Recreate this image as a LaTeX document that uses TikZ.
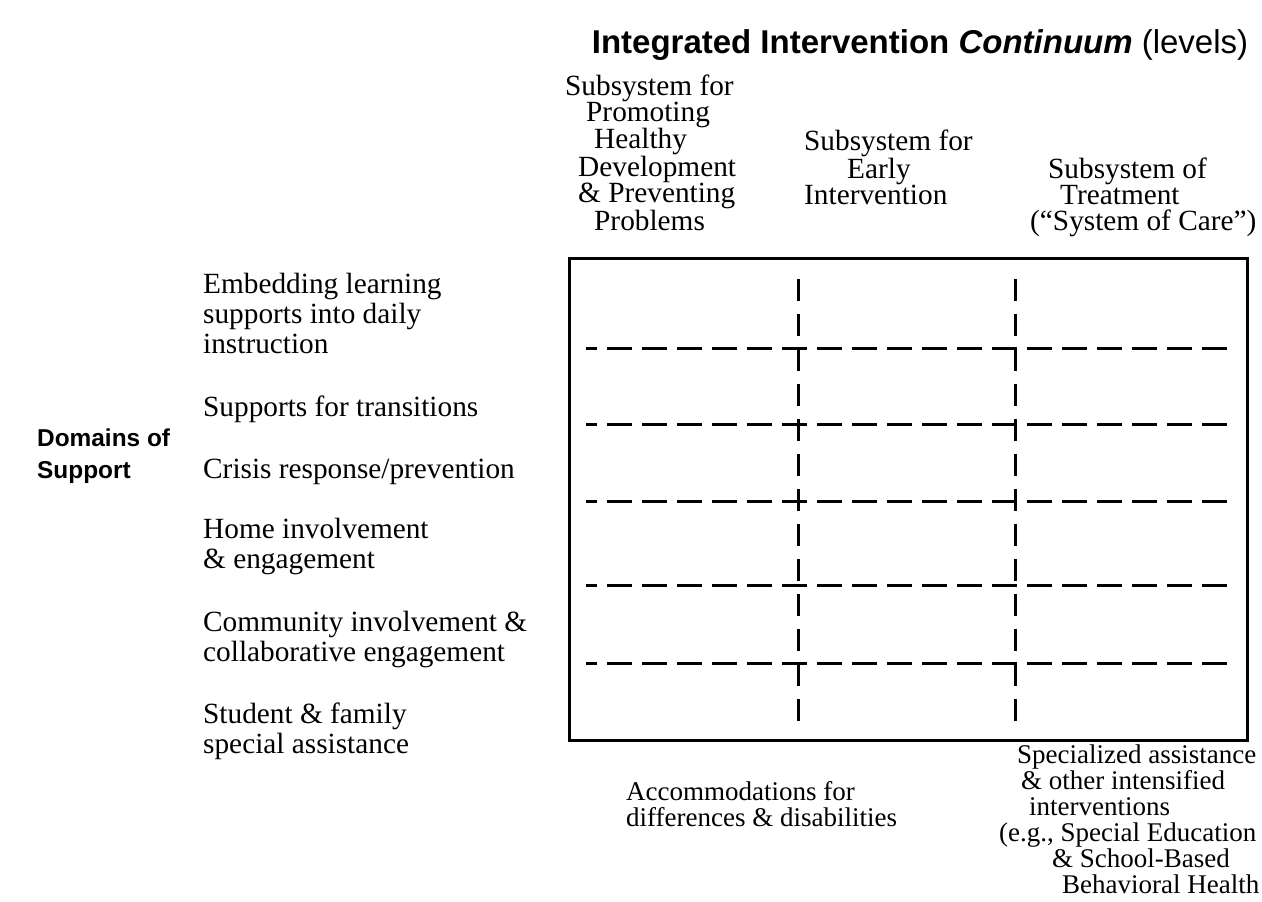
\documentclass[tikz,border=0pt]{standalone}
\usepackage{fontspec}
\setmainfont{Liberation Serif}
\setsansfont{Liberation Sans}
\usetikzlibrary{positioning}

\tikzset{
  body/.style={anchor=base west, inner sep=0pt, align=left, font=\fontsize{29.3}{30}\selectfont},
  head/.style={body, font=\fontsize{29.3}{26}\selectfont},
  foot/.style={body, font=\fontsize{27}{26}\selectfont},
  rowline/.style={line width=3pt, dash pattern=on 25pt off 10pt, dash phase=14pt},
  colline/.style={line width=3pt, dash pattern=on 22pt off 13pt},
}

\begin{document}
\begin{tikzpicture}[x=1pt,y=-1pt]
    \useasboundingbox (0,0) rectangle (1262,902);
    % title and headings (base = last line)
    \node[anchor=base, inner sep=0pt, font=\sffamily\fontsize{33}{36}\selectfont] (title) at (920,53)
        {\textbf{Integrated Intervention \textit{Continuum}} (levels)};
    \node[head] (prevent) at (565,230) {Subsystem for\\\hspace*{21pt}Promoting\\\hspace*{29pt}Healthy\\
        \hspace*{13pt}Development\\\hspace*{13pt}\& Preventing\\\hspace*{29pt}Problems};
    \node[head] (early) at (804,204) {Subsystem for\\\hspace*{43pt}Early\\Intervention};
    \node[head] (treat) at (1030,230) {\hspace*{18pt}Subsystem of\\\hspace*{30pt}Treatment\\(``System of Care'')};
    % left side
    \node[anchor=base west, inner sep=0pt, align=left, font=\sffamily\bfseries\fontsize{24.4}{32}\selectfont]
        (domains) at (37,478) {Domains of\\Support};
    \node[body] (embed) at (203,353) {Embedding learning\\supports into daily\\instruction};
    \node[body] (trans) at (203,416) {Supports for transitions};
    \node[body] (crisis) at (203,478) {Crisis response/prevention};
    \node[body] (home) at (203,568) {Home involvement\\\& engagement};
    \node[body] (comm) at (203,661) {Community involvement \&\\collaborative engagement};
    \node[body] (assist) at (203,753) {Student \& family\\special assistance};
    % the grid
    \coordinate (tl) at (569,258);
    \coordinate (br) at (1247,740);
    \draw[line width=3pt] (tl) rectangle (br);
    \foreach \y in {348,424,501,585,663}
        \draw[rowline] (586,\y) -- (1233,\y);
    \foreach \x in {798,1015}
        \draw[colline] (\x,279) -- (\x,723);
    % below the grid
    \node[foot] (accom) at (626,826) {Accommodations for\\differences \& disabilities};
    \node[foot] (special) at (999,893) {\hspace*{18pt}Specialized assistance\\\hspace*{22pt}\& other intensified\\
        \hspace*{30pt}interventions\\(e.g., Special Education\\\hspace*{53pt}\& School-Based\\\hspace*{63pt}Behavioral Health};
\end{tikzpicture}
\end{document}
